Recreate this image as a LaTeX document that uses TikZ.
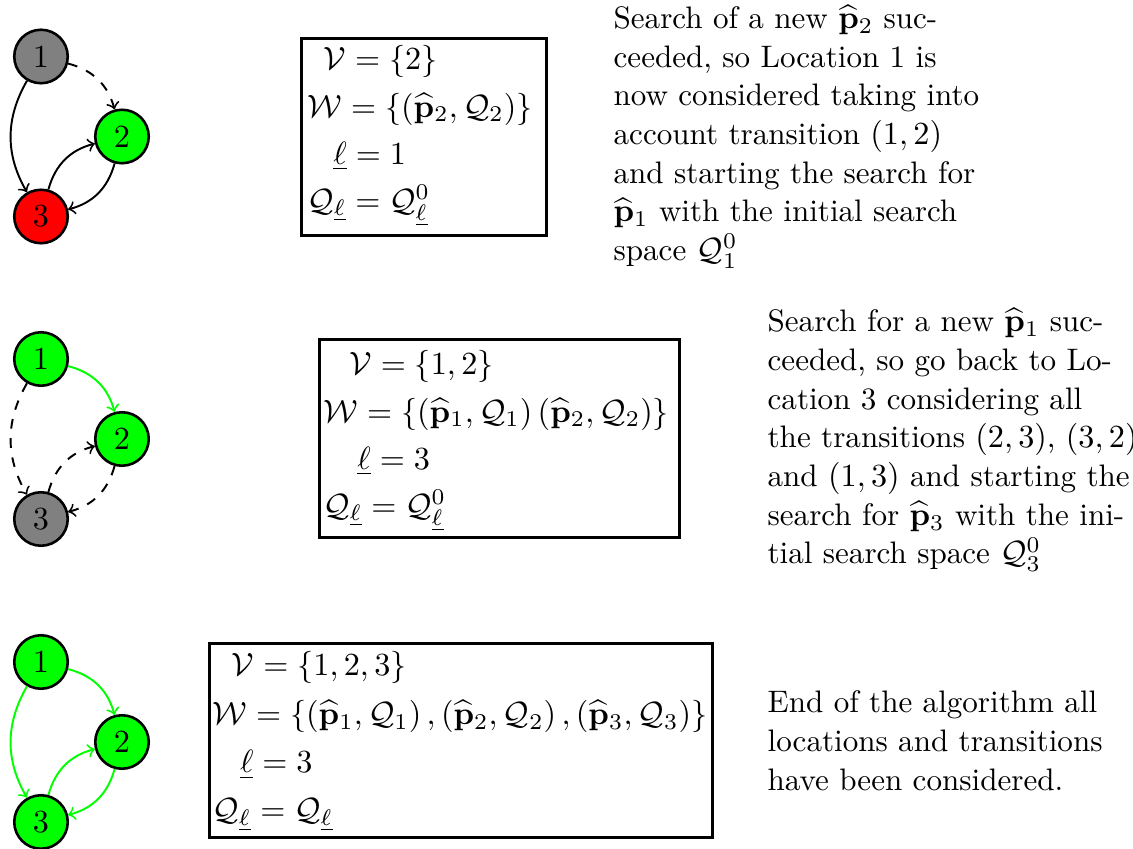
\documentclass[tikz,border=0pt]{standalone}
\usepackage{amsmath}
\begin{document}
\begin{tikzpicture}[x=0.31037pt,y=-0.31037pt,
  loc/.style={circle,draw=black,thick,minimum size=16.6pt,inner sep=0pt},
  tr/.style={->,semithick},
  gtr/.style={->,semithick,draw=green},
  dtr/.style={->,semithick,dashed},
  mbox/.style={draw=black,thick,inner sep=0pt},
  txt/.style={anchor=base west,inner sep=0pt},
  desc/.style={anchor=base west,inner sep=0pt,font=\fontsize{9.65pt}{12pt}\selectfont}
]
\useasboundingbox (0,0) rectangle (1133,849);

% ---------- graph 1 ----------
\node[loc,fill=gray]  (a1) at (41,56.5) {1};
\node[loc,fill=green] (a2) at (122,136.5) {2};
\node[loc,fill=red]   (a3) at (41,216.5) {3};
\draw[dtr] (a1) to[bend left=30] (a2);
\draw[tr] (a1) to[bend right=30] (a3);
\draw[tr] (a3) to[bend left=30] (a2);
\draw[tr] (a2) to[bend left=30] (a3);

% ---------- graph 2 ----------
\node[loc,fill=green] (b1) at (41,359) {1};
\node[loc,fill=green] (b2) at (122,439) {2};
\node[loc,fill=gray]  (b3) at (41,519) {3};
\draw[gtr] (b1) to[bend left=30] (b2);
\draw[dtr] (b1) to[bend right=30] (b3);
\draw[dtr] (b3) to[bend left=30] (b2);
\draw[dtr] (b2) to[bend left=30] (b3);

% ---------- graph 3 ----------
\node[loc,fill=green] (c1) at (41,662) {1};
\node[loc,fill=green] (c2) at (122,742) {2};
\node[loc,fill=green] (c3) at (41,822) {3};
\draw[gtr] (c1) to[bend left=30] (c2);
\draw[gtr] (c1) to[bend right=30] (c3);
\draw[gtr] (c3) to[bend left=30] (c2);
\draw[gtr] (c2) to[bend left=30] (c3);

% ---------- boxes ----------
\node[mbox,minimum width=76.2pt,minimum height=61.3pt] (box1) at (424,137) {};
\node[mbox,minimum width=111.9pt,minimum height=61.6pt] (box2) at (499.5,438.5) {};
\node[mbox,minimum width=156.2pt,minimum height=60.3pt] (box3) at (461,740.5) {};

\node[txt] (m1) at (307,70) {\begin{tabular}[t]{@{}l@{}}
\hspace*{5pt}$\mathcal{V}=\{2\}$\\[2.6pt]
$\mathcal{W}=\{(\widehat{\mathbf{p}}_2,\mathcal{Q}_2)\}$\\[2.6pt]
\hspace*{8pt}$\underline{\ell}=1$\\[2.6pt]
$\mathcal{Q}_{\underline{\ell}}=\mathcal{Q}_{\underline{\ell}}^0$
\end{tabular}};

\node[txt] (m2) at (323,375) {\begin{tabular}[t]{@{}l@{}}
\hspace*{8pt}$\mathcal{V}=\{1,2\}$\\[2.6pt]
$\mathcal{W}=\{\left(\widehat{\mathbf{p}}_1,\mathcal{Q}_1\right)\left(\widehat{\mathbf{p}}_2,\mathcal{Q}_2\right)\}$\\[2.6pt]
\hspace*{10.5pt}$\underline{\ell}=3$\\[2.6pt]
$\mathcal{Q}_{\underline{\ell}}=\mathcal{Q}_{\underline{\ell}}^0$
\end{tabular}};

\node[txt] (m3) at (212,676) {\begin{tabular}[t]{@{}l@{}}
\hspace*{6pt}$\mathcal{V}=\{1,2,3\}$\\[3pt]
$\mathcal{W}=\{\left(\widehat{\mathbf{p}}_1,\mathcal{Q}_1\right),\left(\widehat{\mathbf{p}}_2,\mathcal{Q}_2\right),\left(\widehat{\mathbf{p}}_3,\mathcal{Q}_3\right)\}$\\[3pt]
\hspace*{8.5pt}$\underline{\ell}=3$\\[3pt]
$\mathcal{Q}_{\underline{\ell}}=\mathcal{Q}_{\underline{\ell}}$
\end{tabular}};

% ---------- descriptions ----------
\node[desc] (d1) at (613,28.5) {\begin{tabular}[t]{@{}l@{}}
Search of a new $\widehat{\mathbf{p}}_2$ suc-\\
ceeded, so Location 1 is\\
now considered taking into\\
account transition $(1,2)$\\
and starting the search for\\
$\widehat{\mathbf{p}}_1$ with the initial search\\
space $\mathcal{Q}_1^0$
\end{tabular}};

\node[desc] (d2) at (767,332) {\begin{tabular}[t]{@{}l@{}}
Search for a new $\widehat{\mathbf{p}}_1$ suc-\\
ceeded, so go back to Lo-\\
cation 3 considering all\\
the transitions $(2,3)$, $(3,2)$\\
and $(1,3)$ and starting the\\
search for $\widehat{\mathbf{p}}_3$ with the ini-\\
tial search space $\mathcal{Q}_3^0$
\end{tabular}};

\node[desc] (d3) at (767,713) {\begin{tabular}[t]{@{}l@{}}
End of the algorithm all\\
locations and transitions\\
have been considered.
\end{tabular}};
\end{tikzpicture}
\end{document}
